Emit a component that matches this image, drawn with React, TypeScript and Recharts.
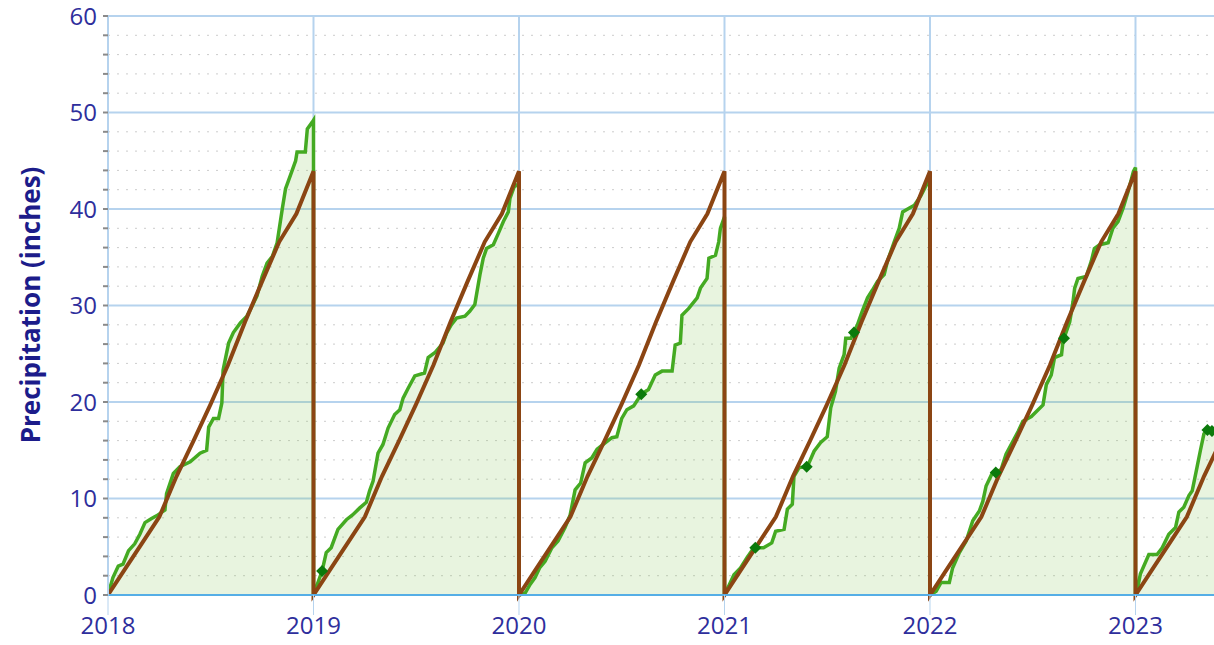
import { ComposedChart, Area, Line, Scatter, XAxis, YAxis, CartesianGrid } from 'recharts';

// years shown on the x axis
const years = [2018, 2019, 2020, 2021, 2022, 2023];
const yTicks = [0, 2, 4, 6, 8, 10, 12, 14, 16, 18, 20, 22, 24, 26, 28, 30, 32, 34, 36, 38, 40, 42, 44, 46, 48, 50, 52, 54, 56, 58, 60];
const yMajor = [10, 20, 30, 40, 50, 60];
const yMinor = [2, 4, 6, 8, 12, 14, 16, 18, 22, 24, 26, 28, 32, 34, 36, 38, 42, 44, 46, 48, 52, 54, 56, 58];

// normal cumulative precipitation at each month boundary (Jan 1 .. Dec 31), inches
const normalByMonth = [0, 2.7, 5.4, 8.1, 12.3, 16.0, 19.8, 23.8, 28.3, 32.5, 36.6, 39.5, 43.9];

// observed cumulative precipitation: [fraction of year, inches]
const obs2018 = [
  [0, 0], [0.024, 1.8], [0.05, 3.0], [0.073, 3.2], [0.1, 4.6], [0.13, 5.3], [0.155, 6.3], [0.18, 7.5],
  [0.21, 7.9], [0.236, 8.2], [0.277, 8.8], [0.285, 10.5], [0.318, 12.6], [0.35, 13.3], [0.4, 13.8],
  [0.448, 14.7], [0.48, 15.0], [0.49, 17.4], [0.513, 18.3], [0.538, 18.3], [0.554, 19.9], [0.56, 23.3],
  [0.587, 26.1], [0.61, 27.2], [0.644, 28.2], [0.676, 28.9], [0.7, 29.9], [0.725, 31.0], [0.75, 33.0],
  [0.774, 34.4], [0.8, 35.1], [0.823, 36.5], [0.848, 40.0], [0.864, 42.1], [0.888, 43.5], [0.913, 45.0],
  [0.92, 45.9], [0.96, 45.9], [0.97, 48.3], [0.994, 49.0], [1, 49.2],
];
const obs2019 = [
  [0, 0], [0.042, 2.5], [0.062, 4.4], [0.086, 4.9], [0.119, 6.8], [0.16, 7.8], [0.19, 8.3], [0.224, 9.0],
  [0.257, 9.6], [0.273, 10.8], [0.29, 11.8], [0.314, 14.7], [0.338, 15.6], [0.363, 17.3], [0.395, 18.7],
  [0.42, 19.2], [0.436, 20.4], [0.46, 21.4], [0.493, 22.7], [0.54, 23.0], [0.558, 24.6], [0.59, 25.1],
  [0.63, 26.1], [0.647, 27.1], [0.67, 28.0], [0.696, 28.7], [0.737, 28.9], [0.76, 29.4], [0.785, 30.1],
  [0.793, 31.1], [0.81, 33.2], [0.826, 34.9], [0.842, 35.9], [0.875, 36.3], [0.9, 37.5], [0.924, 38.7],
  [0.948, 39.7], [0.956, 41.1], [0.976, 42.3], [1, 42.6],
];
const obs2020 = [
  [0, 0], [0.03, 0.2], [0.054, 1.1], [0.078, 1.8], [0.1, 2.8], [0.127, 3.5], [0.16, 4.9], [0.19, 5.6],
  [0.224, 7.0], [0.249, 8.3], [0.273, 10.9], [0.3, 11.6], [0.322, 13.7], [0.354, 14.2], [0.38, 15.1],
  [0.41, 15.6], [0.452, 16.3], [0.476, 16.4], [0.5, 18.3], [0.525, 19.2], [0.558, 19.6], [0.595, 20.8],
  [0.63, 21.3], [0.663, 22.8], [0.696, 23.2], [0.745, 23.2], [0.76, 25.9], [0.785, 26.1], [0.793, 29.0],
  [0.826, 29.7], [0.867, 30.8], [0.883, 31.8], [0.915, 32.8], [0.924, 34.9], [0.956, 35.2], [0.972, 36.6],
  [0.98, 38.0], [1, 39.2],
];
const obs2021 = [
  [0, 0], [0.046, 2.1], [0.078, 2.8], [0.11, 3.9], [0.143, 4.9], [0.19, 4.9], [0.23, 5.4], [0.249, 6.6],
  [0.29, 6.8], [0.306, 8.9], [0.33, 9.4], [0.338, 12.3], [0.363, 13.2], [0.403, 13.3], [0.436, 14.9],
  [0.468, 15.8], [0.5, 16.4], [0.517, 19.4], [0.54, 21.1], [0.558, 23.5], [0.582, 24.9], [0.59, 26.6],
  [0.615, 26.6], [0.647, 28.0], [0.67, 29.4], [0.696, 30.8], [0.72, 31.6], [0.745, 32.5], [0.777, 33.2],
  [0.793, 34.6], [0.826, 36.6], [0.85, 38.0], [0.867, 39.7], [0.9, 40.1], [0.924, 40.4], [0.956, 41.4],
  [0.99, 42.8], [1, 43.8],
];
const obs2022 = [
  [0, 0], [0.03, 0.4], [0.054, 1.3], [0.094, 1.3], [0.11, 2.8], [0.143, 4.4], [0.176, 5.6], [0.208, 7.7],
  [0.24, 8.7], [0.257, 9.7], [0.273, 11.3], [0.3, 12.5], [0.346, 13.0], [0.37, 14.6], [0.395, 15.6],
  [0.43, 17.0], [0.452, 18.0], [0.493, 18.5], [0.55, 19.7], [0.566, 21.8], [0.59, 22.8], [0.606, 24.6],
  [0.64, 24.9], [0.647, 26.3], [0.68, 28.3], [0.696, 30.4], [0.704, 31.8], [0.72, 32.8], [0.76, 33.0],
  [0.785, 34.6], [0.8, 35.9], [0.826, 36.3], [0.867, 36.5], [0.89, 38.0], [0.915, 38.7], [0.94, 40.1],
  [0.964, 41.8], [0.99, 43.9], [1, 44.3],
];
const obs2023 = [
  [0, 0], [0.005, 0.2], [0.024, 2.2], [0.065, 4.2], [0.105, 4.2], [0.13, 4.9], [0.162, 6.3], [0.195, 7.0],
  [0.211, 8.6], [0.235, 9.1], [0.26, 10.3], [0.276, 10.8], [0.3, 13.3], [0.316, 15.0], [0.333, 16.7],
  [0.349, 17.1], [0.381, 16.9], [0.4, 17.0],
];

// dark green diamond markers
const markX = [2019.042, 2020.595, 2021.15, 2021.4, 2021.63, 2022.32, 2022.652, 2023.35, 2023.372];
const markV = [2.5, 20.8, 4.9, 13.3, 27.2, 12.7, 26.6, 17.1, 17.0];

const observedYears = [obs2018, obs2019, obs2020, obs2021, obs2022, obs2023];
const observed = observedYears.flatMap((pts, i) => pts.map(([f, v]) => ({ x: years[i] + f, v })));
const normal = years.flatMap((y) =>
  normalByMonth.slice(0, y === 2023 ? 7 : 13).map((v, m) => ({ x: y + m / 12, v }))
);
const marks = markX.map((x, i) => ({ x, v: markV[i] }));

const tickColor = '#2e2e9c';
const gridBlue = '#b6d3ee';

const Diamond = (props: any) => {
  const { cx, cy } = props;
  const r = 6;
  return <polygon points={`${cx},${cy - r} ${cx + r},${cy} ${cx},${cy + r} ${cx - r},${cy}`} fill="#0b7a0b" />;
};

export default function App() {
  return (
    <div style={{ position: 'absolute', left: 0, top: 0, fontFamily: '"Open Sans", sans-serif' }}>
      <ComposedChart width={1214} height={645} margin={{ top: 16, right: 0, bottom: 0, left: 0 }}>
        <CartesianGrid horizontalValues={yMinor} vertical={false} stroke="#cccccc" strokeDasharray="2 7" />
        <CartesianGrid horizontalValues={yMajor} verticalValues={years} stroke={gridBlue} strokeWidth={2} />
        <XAxis
          type="number"
          dataKey="x"
          domain={[2018, 2023.382]}
          ticks={years}
          interval={0}
          allowDataOverflow
          height={50}
          tickSize={20}
          tickMargin={2}
          axisLine={{ stroke: '#55aee6', strokeWidth: 2 }}
          tickLine={{ stroke: gridBlue, strokeWidth: 1 }}
          tick={{ fill: tickColor, fontSize: 24 }}
        />
        <YAxis
          type="number"
          dataKey="v"
          domain={[0, 60]}
          ticks={yTicks}
          interval={0}
          width={108}
          tickSize={5}
          tickMargin={6}
          axisLine={{ stroke: gridBlue, strokeWidth: 2 }}
          tickLine={{ stroke: '#8a8a8a', strokeWidth: 2 }}
          tick={{ fill: tickColor, fontSize: 24 }}
          tickFormatter={(v) => (v % 10 === 0 ? String(v) : '')}
          label={{
            content: () => (
              <text
                x={30}
                y={305}
                transform="rotate(-90 30 305)"
                textAnchor="middle"
                dominantBaseline="central"
                fill="#1c1c8a"
                fontSize={26}
                fontWeight="bold"
              >
                Precipitation (inches)
              </text>
            ),
          }}
        />
        <Area
          data={observed}
          dataKey="v"
          type="linear"
          baseValue={0}
          stroke="#44aa22"
          strokeWidth={3.5}
          fill="#8cc860"
          fillOpacity={0.2}
          dot={false}
          activeDot={false}
          isAnimationActive={false}
        />
        <Line
          data={normal}
          dataKey="v"
          type="linear"
          stroke="#8b4513"
          strokeWidth={4}
          dot={false}
          activeDot={false}
          isAnimationActive={false}
        />
        <Scatter data={marks} dataKey="v" shape={Diamond} isAnimationActive={false} />
      </ComposedChart>
    </div>
  );
}
